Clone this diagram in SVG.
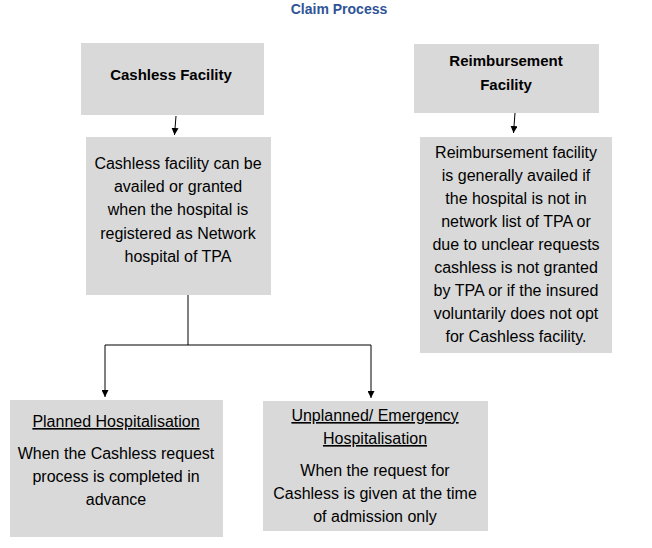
<svg xmlns="http://www.w3.org/2000/svg" width="652" height="548" viewBox="0 0 652 548">
<defs>
<marker id="ah" viewBox="0 0 10 10" refX="10" refY="5" markerWidth="7" markerHeight="7" markerUnits="userSpaceOnUse" orient="auto">
<path d="M0,0 L10,5 L0,10 z" fill="#000"/>
</marker>
<style>
.box{fill:#d9d9d9;}
.t{font-family:"Liberation Sans",Arial,sans-serif;font-size:16px;fill:#000;text-anchor:middle;}
.b{font-weight:bold;font-size:15px;}
.u{text-decoration:underline;}
.c{stroke:#000;stroke-width:1;fill:none;}
.title{font-family:"Liberation Sans",Arial,sans-serif;font-size:14px;font-weight:bold;fill:#2f5496;text-anchor:middle;}
</style>
</defs>
<rect width="652" height="548" fill="#fff"/>
<text class="title" x="339" y="14">Claim Process</text>

<g id="connectors">
<line class="c" x1="176" y1="116" x2="174.5" y2="135" marker-end="url(#ah)"/>
<line class="c" x1="515" y1="113" x2="513.5" y2="133" marker-end="url(#ah)"/>
<polyline class="c" points="188,295 188,345 105,345 105,397" marker-end="url(#ah)"/>
<polyline class="c" points="188,345 371,345 371,398" marker-end="url(#ah)"/>
</g>

<g id="cashless">
<rect class="box" x="81" y="43" width="183" height="72"/>
<text class="t b" x="171" y="80">Cashless Facility</text>
</g>

<g id="cashless-desc">
<rect class="box" x="86" y="137" width="185" height="158"/>
<text class="t" x="178" y="169">Cashless facility can be</text>
<text class="t" x="178" y="192">availed or granted</text>
<text class="t" x="178" y="215">when the hospital is</text>
<text class="t" x="178" y="239">registered as Network</text>
<text class="t" x="178" y="262">hospital of TPA</text>
</g>

<g id="reimbursement">
<rect class="box" x="414" y="44" width="185" height="69"/>
<text class="t b" x="506" y="66">Reimbursement</text>
<text class="t b" x="506" y="90">Facility</text>
</g>

<g id="reimbursement-desc">
<rect class="box" x="420" y="137" width="192" height="216"/>
<text class="t" x="516" y="158">Reimbursement facility</text>
<text class="t" x="516" y="181">is generally availed if</text>
<text class="t" x="516" y="204">the hospital is not in</text>
<text class="t" x="516" y="227">network list of TPA or</text>
<text class="t" x="516" y="250">due to unclear requests</text>
<text class="t" x="516" y="273">cashless is not granted</text>
<text class="t" x="516" y="296">by TPA or if the insured</text>
<text class="t" x="516" y="319">voluntarily does not opt</text>
<text class="t" x="516" y="342">for Cashless facility.</text>
</g>

<g id="planned">
<rect class="box" x="10" y="400" width="213" height="137"/>
<text class="t u" x="116" y="427">Planned Hospitalisation</text>
<text class="t" x="116" y="459">When the Cashless request</text>
<text class="t" x="116" y="482">process is completed in</text>
<text class="t" x="116" y="505">advance</text>
</g>

<g id="unplanned">
<rect class="box" x="263" y="401" width="225" height="130"/>
<text class="t u" x="375" y="421">Unplanned/ Emergency</text>
<text class="t u" x="375" y="444">Hospitalisation</text>
<text class="t" x="375" y="476">When the request for</text>
<text class="t" x="375" y="499">Cashless is given at the time</text>
<text class="t" x="375" y="522">of admission only</text>
</g>
</svg>
